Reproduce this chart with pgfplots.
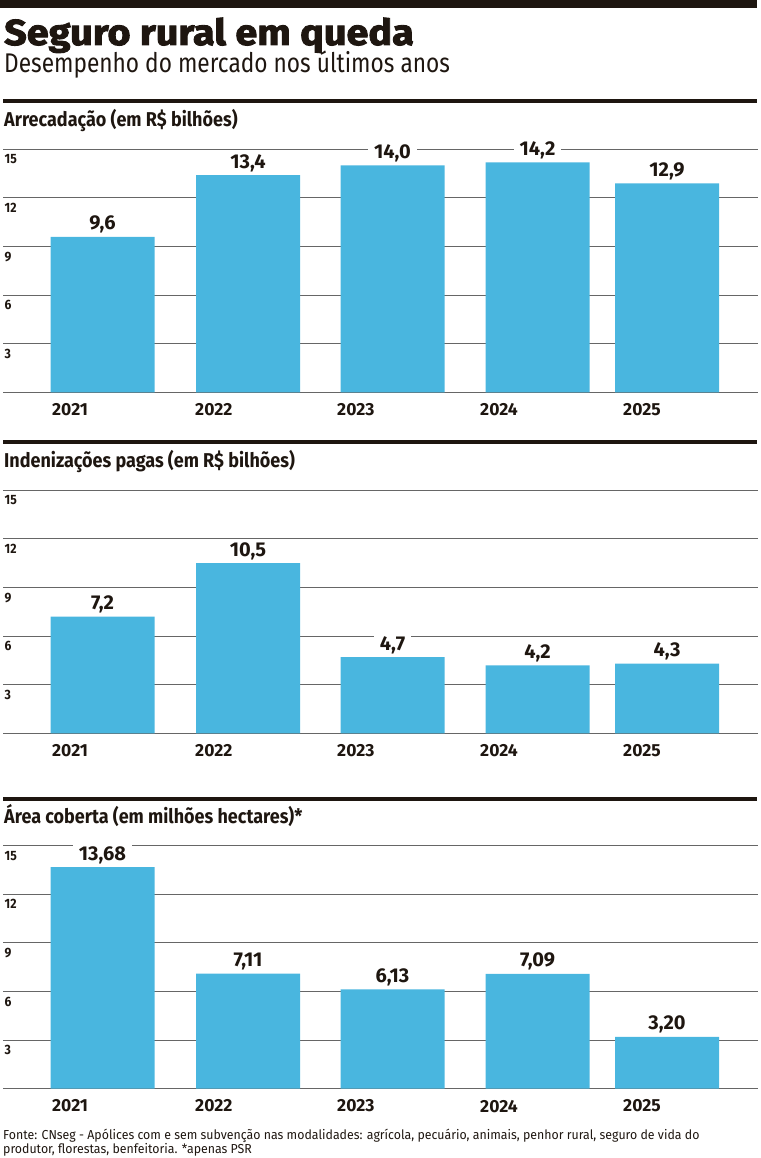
\documentclass[border=0pt]{standalone}
\usepackage{pgfplots}
\pgfplotsset{compat=1.18}
\usepackage{pgfplotstable}
\usepackage{fontspec}
\setmainfont{Fira Sans}
\newfontfamily\heavyfont{Fira Sans}[FakeStretch=1.1, BoldFeatures={FakeBold=2.5}]
\newfontfamily\lightfont{Fira Sans}[FakeStretch=0.84]
\newfontfamily\condfont{Fira Sans}[FakeStretch=0.9]
\newfontfamily\numfont{Fira Sans}[FakeStretch=1.0]
\newfontfamily\condreg{Fira Sans}[FakeStretch=0.95]

\definecolor{ink}{HTML}{1E1610}
\definecolor{barblue}{HTML}{49B6DF}
\definecolor{gridgray}{HTML}{666666}

% x = bar centre in px, y = value, label = printed value
\pgfplotstableread{
x     y      label
102.5 9.6    9,6
248   13.4   13,4
392.5 14.0   14,0
537.5 14.2   14,2
667   12.9   12,9
}\arrecadacao

\pgfplotstableread{
x     y      label
102.5 7.2    7,2
248   10.5   10,5
392.5 4.7    4,7
537.5 4.2    4,2
667   4.3    4,3
}\indenizacoes

\pgfplotstableread{
x     y      label
102.5 13.68  13,68
248   7.11   7,11
392.5 6.13   6,13
537.5 7.09   7,09
667   3.20   3,20
}\area

\pgfplotsset{
  panel/.style={
    scale only axis, width=754.7pt, height=243pt,
    xmin=3, xmax=757.7, ymin=0, ymax=15,
    clip=false,
    axis line style={draw=none},
    major tick length=0pt,
    ytick={0,3,6,9,12,15}, yticklabels={,3,6,9,12,15},
    ymajorgrids, grid style={gridgray, line width=1pt},
    yticklabel style={anchor=north west, inner sep=0pt, xshift=1.5pt, yshift=-5pt,
      font=\condfont\bfseries\fontsize{13.5}{14}\selectfont, text=ink},
    xtick={52,195,337,480,623}, xticklabels={2021,2022,2023,2024,2025},
    xticklabel style={anchor=north west, inner sep=0pt, yshift=-11pt,
      font=\numfont\bfseries\fontsize{17.5}{18}\selectfont, text=ink},
    ybar, bar width=104pt,
    point meta=explicit symbolic,
    nodes near coords={\pgfplotspointmeta},
    every node near coord/.append style={anchor=base, yshift=7pt, fill=white,
      inner xsep=6pt, inner ysep=2pt,
      font=\bfseries\fontsize{20}{22}\selectfont, text=ink},
  },
}

\begin{document}
\begin{tikzpicture}[x=1pt, y=1pt]
\useasboundingbox (0pt,0pt) rectangle (760pt,-1158pt);

% rules
\fill[ink] (0pt,0pt) rectangle (757pt,-8pt);
\fill[ink] (3pt,-99.5pt) rectangle (757pt,-103pt);
\fill[ink] (3pt,-440pt) rectangle (757pt,-444pt);
\fill[ink] (3pt,-797pt) rectangle (757pt,-800.5pt);

% titles
\node[anchor=base west, inner sep=0pt, text=ink] at (4pt,-45pt)
  {\heavyfont\bfseries\fontsize{36}{40}\selectfont Seguro rural em queda};
\node[anchor=base west, inner sep=0pt, text=ink] at (4pt,-73pt)
  {\lightfont\fontsize{27}{30}\selectfont Desempenho do mercado nos últimos anos};

\node[anchor=base west, inner sep=0pt, text=ink] at (4pt,-127pt)
  {\condfont\bfseries\fontsize{20}{22}\selectfont Arrecadação (em R\$ bilhões)};
\node[anchor=base west, inner sep=0pt, text=ink] at (4pt,-467pt)
  {\condfont\bfseries\fontsize{20}{22}\selectfont Indenizações pagas (em R\$ bilhões)};
\node[anchor=base west, inner sep=0pt, text=ink] at (4pt,-823pt)
  {\condfont\bfseries\fontsize{20}{22}\selectfont Área coberta (em milhões hectares)*};

% panel 1
\begin{axis}[panel, at={(3pt,-392.3pt)}, anchor=south west]
\addplot[fill=barblue, draw=none] table[x=x, y=y, meta=label] {\arrecadacao};
\end{axis}

% panel 2
\begin{axis}[panel, at={(3pt,-733.3pt)}, anchor=south west]
\addplot[fill=barblue, draw=none] table[x=x, y=y, meta=label] {\indenizacoes};
\end{axis}

% panel 3
\begin{axis}[panel, at={(3pt,-1088.7pt)}, anchor=south west]
\addplot[fill=barblue, draw=none] table[x=x, y=y, meta=label] {\area};
\end{axis}

% source note
\node[anchor=base west, inner sep=0pt, text=ink] at (3pt,-1139pt)
  {\condreg\fontsize{13}{14}\selectfont Fonte: CNseg - Apólices com e sem subvenção nas modalidades: agrícola, pecuário, animais, penhor rural, seguro de vida do};
\node[anchor=base west, inner sep=0pt, text=ink] at (3pt,-1153pt)
  {\condreg\fontsize{13}{14}\selectfont produtor, florestas, benfeitoria. *apenas PSR};
\end{tikzpicture}
\end{document}
